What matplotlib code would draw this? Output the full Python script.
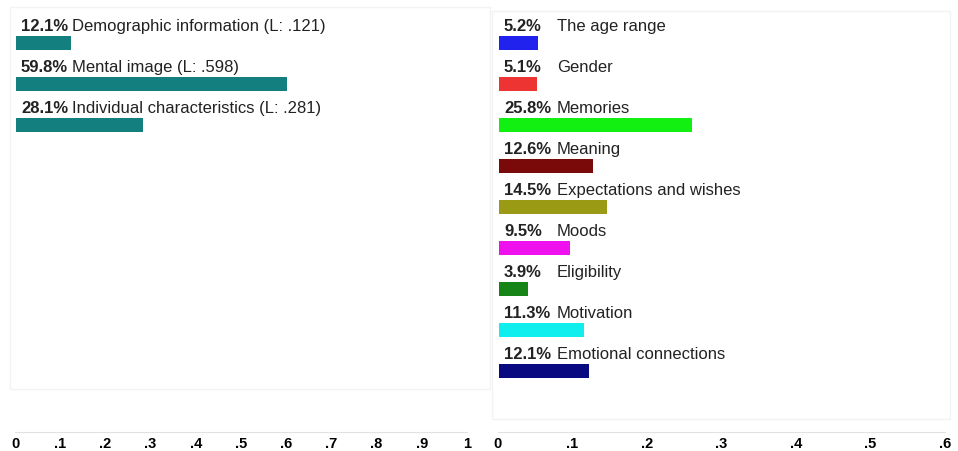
import matplotlib
matplotlib.use("Agg")
import matplotlib.pyplot as plt
from matplotlib.ticker import FuncFormatter
from matplotlib.patches import Rectangle

plt.rcParams['font.family'] = ['Liberation Sans', 'DejaVu Sans']

# Left panel data
left_names = ["Demographic information (L: .121)", "Mental image (L: .598)",
              "Individual characteristics (L: .281)"]
left_values = [0.121, 0.598, 0.281]
left_pct = ["12.1%", "59.8%", "28.1%"]
left_ticks = [0, .1, .2, .3, .4, .5, .6, .7, .8, .9, 1]

# Right panel data
right_names = ["The age range", "Gender", "Memories", "Meaning",
               "Expectations and wishes", "Moods", "Eligibility",
               "Motivation", "Emotional connections"]
right_values = [0.052, 0.051, 0.258, 0.126, 0.145, 0.095, 0.039, 0.113, 0.121]
right_pct = ["5.2%", "5.1%", "25.8%", "12.6%", "14.5%", "9.5%", "3.9%", "11.3%", "12.1%"]
right_colors = ["#2222ee", "#ee3333", "#11f011", "#7a0a0a", "#9a9a14",
                "#ee11ee", "#168416", "#11eeee", "#0a0a80"]
right_ticks = [0, .1, .2, .3, .4, .5, .6]
left_color = "#13807f"

W, H = 958, 452
fig = plt.figure(figsize=(W / 100, H / 100), dpi=100)

top_px, bot_px = 10, 433
ax_b = 1 - bot_px / H
ax_h = (bot_px - top_px) / H
spacing = 41.06
c0 = 44
ylim = ((bot_px - c0) / spacing, -(c0 - top_px) / spacing)

axL = fig.add_axes([15 / W, ax_b, (467 - 15) / W, ax_h])
axR = fig.add_axes([498 / W, ax_b, (945 - 498) / W, ax_h])

# faint frames
fig.add_artist(Rectangle((10 / W, 1 - 390 / H), 480 / W, 382 / H, transform=fig.transFigure,
                         fill=False, edgecolor="#f3f3f3", linewidth=1))
fig.add_artist(Rectangle((492 / W, 1 - 420 / H), 458 / W, 408 / H, transform=fig.transFigure,
                         fill=False, edgecolor="#f3f3f3", linewidth=1))

def fmt(v, pos):
    if abs(v) < 1e-9:
        return "0"
    if abs(v - 1) < 1e-9:
        return "1"
    return ("%.1f" % v)[1:]

bh = 0.34
fs = 12

def draw(ax, names, values, pcts, colors, xmax, ticks, name_off):
    ys = list(range(len(values)))
    ax.barh(ys, values, height=bh, color=colors, left=0.003 * xmax)
    for y, n, p in zip(ys, names, pcts):
        ty = y - bh / 2 - 0.15
        ax.annotate(p, xy=(0, ty), xytext=(6, 0), textcoords="offset pixels",
                    fontsize=fs, fontweight="bold", color="#222222", va="baseline", ha="left")
        ax.annotate(n, xy=(0, ty), xytext=(name_off, 0), textcoords="offset pixels",
                    fontsize=fs, color="#222222", va="baseline", ha="left")
    ax.set_xlim(0, xmax)
    ax.set_ylim(*ylim)
    ax.set_xticks(ticks)
    ax.xaxis.set_major_formatter(FuncFormatter(fmt))
    ax.tick_params(axis="x", length=0, pad=3)
    for lab in ax.get_xticklabels():
        lab.set_fontweight("bold")
        lab.set_fontsize(10.5)
        lab.set_family(["Liberation Sans Narrow", "Liberation Sans"])
    ax.set_yticks([])
    for s in ["top", "right", "left"]:
        ax.spines[s].set_visible(False)
    ax.spines["bottom"].set_color("#e2e2e2")
    ax.patch.set_alpha(0)

draw(axL, left_names, left_values, left_pct, left_color, 1.0, left_ticks, 57)
draw(axR, right_names, right_values, right_pct, right_colors, 0.6, right_ticks, 59)

fig.savefig("out.png", dpi=100, facecolor="white")
